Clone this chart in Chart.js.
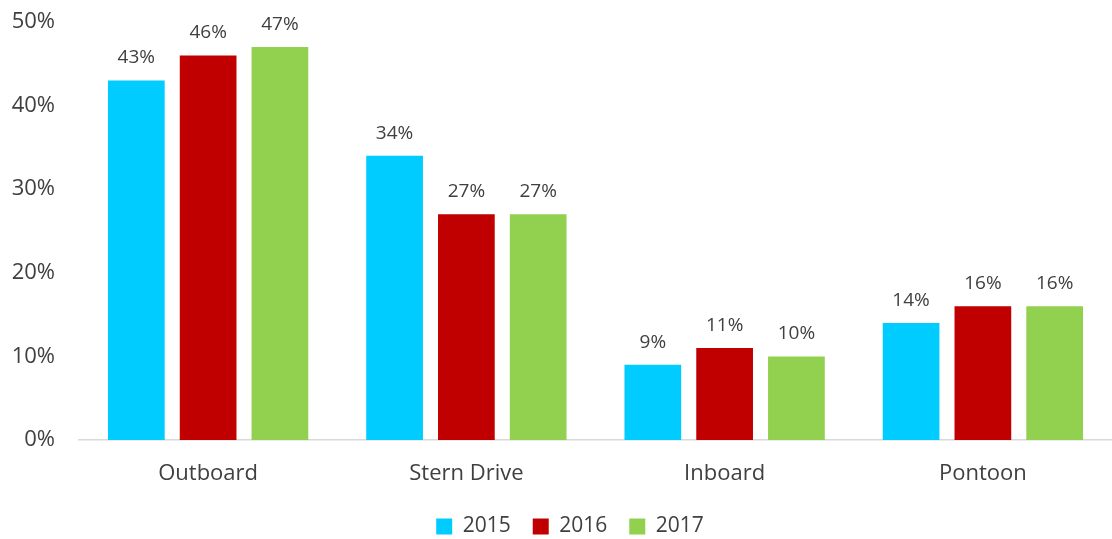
<!DOCTYPE html>
<html>
<head>
<meta charset="utf-8">
<script src="https://cdn.jsdelivr.net/npm/chart.js@4"></script>
<style>
    html, body { margin: 0; padding: 0; background: #ffffff; }
    #chart { display: block; }
</style>
</head>
<body>
<canvas id="chart" width="1112" height="539"></canvas>
<script>
const categories = ["Outboard", "Stern Drive", "Inboard", "Pontoon"];
const years = ["2015", "2016", "2017"];
const values2015 = [43, 34, 9, 14];
const values2016 = [46, 27, 11, 16];
const values2017 = [47, 27, 10, 16];
const yTicks = [0, 10, 20, 30, 40, 50];
const colors = ["#00CCFF", "#C00000", "#92D050"];

const fontFamily = "'Open Sans', 'DejaVu Sans', sans-serif";
const textColor = "#404040";

// value labels above each bar
const barLabels = {
    id: "barLabels",
    afterDatasetsDraw(chart) {
        const ctx = chart.ctx;
        ctx.save();
        ctx.font = `19px ${fontFamily}`;
        ctx.fillStyle = textColor;
        ctx.textAlign = "center";
        ctx.textBaseline = "bottom";
        chart.data.datasets.forEach((dataset, i) => {
            chart.getDatasetMeta(i).data.forEach((bar, j) => {
                ctx.fillText(`${dataset.data[j]}%`, bar.x, bar.y - 13);
            });
        });
        ctx.restore();
    }
};

// nudge the legend a little lower / right of where Chart.js places it
const legendShift = {
    id: "legendShift",
    beforeDraw(chart) {
        const legend = chart.legend;
        if (legend && !legend._shifted) {
            legend.top += 8;
            legend.bottom += 8;
            legend.left += 14;
            legend.right += 14;
            legend._shifted = true;
        }
    }
};

new Chart(document.getElementById("chart"), {
    type: "bar",
    data: {
        labels: categories,
        datasets: [values2015, values2016, values2017].map((data, i) => ({
            label: years[i],
            data,
            backgroundColor: colors[i],
            barPercentage: 0.79,
            categoryPercentage: 0.834
        }))
    },
    options: {
        responsive: false,
        animation: false,
        layout: { padding: { top: 22, right: 0, left: 0, bottom: 0 } },
        plugins: {
            tooltip: { enabled: false },
            legend: {
                position: "bottom",
                labels: {
                    boxWidth: 16,
                    boxHeight: 16,
                    padding: 22,
                    color: textColor,
                    font: { family: fontFamily, size: 21 }
                }
            }
        },
        scales: {
            x: {
                grid: { display: false, drawTicks: false },
                border: { color: "#d9d9d9", width: 1.5 },
                ticks: { color: textColor, padding: 21, font: { family: fontFamily, size: 22 } },
                afterFit: (scale) => { scale.height = 46; }
            },
            y: {
                min: 0,
                max: 50,
                grid: { display: false, drawTicks: false },
                border: { display: false },
                afterBuildTicks: (scale) => { scale.ticks = yTicks.map((value) => ({ value })); },
                ticks: {
                    color: textColor,
                    padding: 24,
                    font: { family: fontFamily, size: 22 },
                    callback: (value) => `${value}%`
                },
                afterFit: (scale) => {
                    scale.width = 79;
                    scale.paddingTop = 0;
                    scale.paddingBottom = 0;
                }
            }
        }
    },
    plugins: [barLabels, legendShift]
});
</script>
</body>
</html>
